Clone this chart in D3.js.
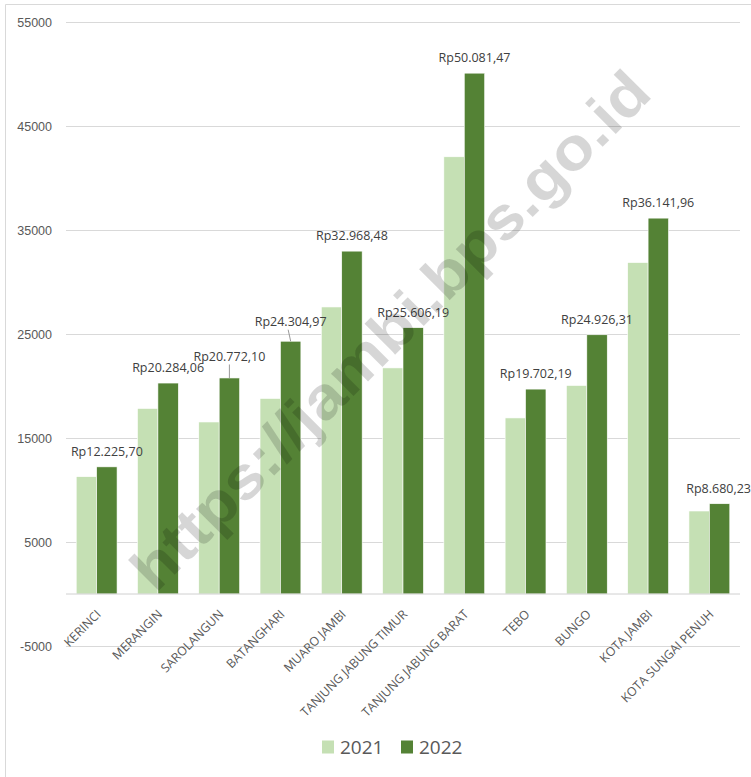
<!DOCTYPE html>
<html>
<head>
<meta charset="utf-8">
<script src="https://cdn.jsdelivr.net/npm/d3@7"></script>
<style>
  body { margin: 0; background: #fff; }
  svg { display: block; font-family: 'Open Sans', 'Noto Sans', sans-serif; }
</style>
</head>
<body>
<div id="chart"></div>
<script>
// data
const regions = ['KERINCI', 'MERANGIN', 'SAROLANGUN', 'BATANGHARI', 'MUARO JAMBI',
  'TANJUNG JABUNG TIMUR', 'TANJUNG JABUNG BARAT', 'TEBO', 'BUNGO', 'KOTA JAMBI', 'KOTA SUNGAI PENUH']
const years = ['2021', '2022']
const values2021 = [11280, 17840, 16540, 18800, 27600, 21740, 42040, 16930, 20050, 31870, 7980]
const values2022 = [12225.70, 20284.06, 20772.10, 24304.97, 32968.48, 25606.19, 50081.47, 19702.19, 24926.31, 36141.96, 8680.23]
const yTicks = [-5000, 5000, 15000, 25000, 35000, 45000, 55000]

const W = 751, H = 777
const plot = { left: 66, right: 740, top: 22, bottom: 646 }
const colors = { '2021': '#c5e0b4', '2022': '#548235' }
// labels that Excel pushed up (with a leader line)
const labelLift = { SAROLANGUN: 6, BATANGHARI: 4 }

const rows = regions.map((r, i) => ({ region: r, '2021': values2021[i], '2022': values2022[i] }))

const rp = d3.formatLocale({ decimal: ',', thousands: '.', grouping: [3], currency: ['Rp', ''] }).format('$,.2f')

const svg = d3.select('#chart').append('svg').attr('width', W).attr('height', H)

// chart frame (only left and top edges are inside the crop)
svg.append('path')
  .attr('d', `M5.5,${H}V4.5H${W}`)
  .attr('fill', 'none').attr('stroke', '#d9d9d9')

const y = d3.scaleLinear().domain([-5000, 55000]).range([plot.bottom, plot.top])
const x = d3.scaleBand().domain(regions).range([plot.left, plot.right])
  .paddingInner(1 / 3).paddingOuter(1 / 6)
const x1 = d3.scaleBand().domain(years).range([0, x.bandwidth()])

// gridlines
svg.append('g')
  .attr('transform', `translate(${plot.left},0)`)
  .call(d3.axisLeft(y).tickValues(yTicks).tickSize(-(plot.right - plot.left)).tickPadding(14).tickFormat(d => String(d)))
  .call(g => g.select('.domain').remove())
  .call(g => g.selectAll('line').attr('stroke', '#d9d9d9'))
  .call(g => g.selectAll('text').attr('fill', '#595959').attr('font-size', 12.5))

// bars
svg.append('g').selectAll('g')
  .data(rows).join('g')
  .attr('transform', d => `translate(${x(d.region)},0)`)
  .selectAll('rect')
  .data(d => years.map(k => ({ key: k, value: d[k] })))
  .join('rect')
  .attr('x', d => x1(d.key))
  .attr('width', x1.bandwidth())
  .attr('y', d => y(d.value))
  .attr('height', d => y(0) - y(d.value))
  .attr('fill', d => colors[d.key])
  .attr('stroke', '#fff').attr('stroke-width', 0.6)

// zero baseline
svg.append('line')
  .attr('x1', plot.left).attr('x2', plot.right)
  .attr('y1', y(0)).attr('y2', y(0))
  .attr('stroke', '#d0d0d0')

// category labels
svg.append('g').selectAll('text')
  .data(regions).join('text')
  .attr('transform', d => `translate(${x(d) + x.bandwidth() / 2 + 2},${y(0) + 18}) rotate(-45)`)
  .attr('text-anchor', 'end')
  .attr('dy', '0.35em')
  .attr('fill', '#595959')
  .attr('font-size', 12.3)
  .text(d => d)

// data labels on 2022 bars
const lab = svg.append('g')
rows.forEach(d => {
  const cx = x(d.region) + x1('2022') + x1.bandwidth() / 2
  const top = y(d['2022'])
  const lift = labelLift[d.region] || 0
  const ly = top - 15.5 - lift
  const t = lab.append('text')
    .attr('x', cx).attr('y', ly)
    .attr('dy', '0.35em')
    .attr('text-anchor', 'middle')
    .attr('fill', '#404040')
    .attr('font-size', 12.5)
    .text(rp(d['2022']))
  const bb = t.node().getBBox()
  if (bb.x + bb.width > W) t.attr('x', cx - (bb.x + bb.width - W))
  if (lift) {
    lab.append('line')
      .attr('x1', cx - (d.region === 'BATANGHARI' ? 2.5 : 0)).attr('y1', ly + 8)
      .attr('x2', cx).attr('y2', top)
      .attr('stroke', '#7f7f7f').attr('stroke-width', 0.8)
  }
})

// watermark
svg.append('text')
  .attr('transform', `translate(390,330) rotate(-45)`)
  .attr('text-anchor', 'middle')
  .attr('dy', '0.35em')
  .attr('font-family', 'Liberation Sans, Arial, sans-serif')
  .attr('font-weight', 'bold')
  .attr('font-size', 60)
  .attr('textLength', 705)
  .attr('lengthAdjust', 'spacingAndGlyphs')
  .attr('fill', '#000')
  .attr('fill-opacity', 0.16)
  .text('https://jambi.bps.go.id')

// legend
const legend = svg.append('g').attr('transform', 'translate(322,747)')
const items = legend.selectAll('g').data(years).join('g')
  .attr('transform', (d, i) => `translate(${i * 79},0)`)
items.append('rect')
  .attr('x', 0).attr('y', -6.5).attr('width', 12).attr('height', 13)
  .attr('fill', d => colors[d])
items.append('text')
  .attr('x', 18).attr('dy', '0.35em')
  .attr('fill', '#595959')
  .attr('font-size', 19)
  .text(d => d)
</script>
</body>
</html>
